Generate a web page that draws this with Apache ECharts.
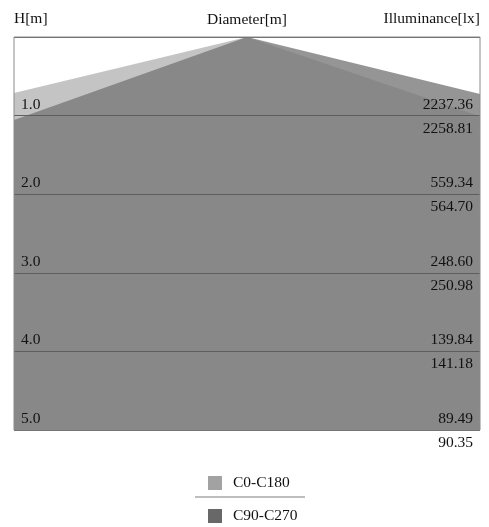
<!DOCTYPE html>
<html>
<head>
<meta charset="utf-8">
<script src="https://cdn.jsdelivr.net/npm/echarts@6/dist/echarts.min.js"></script>
<style>
html,body{margin:0;padding:0;background:#fff;}
#main{width:489px;height:527px;}
</style>
</head>
<body>
<div id="main"></div>
<script>
// ---- data ----
const heights = [1, 2, 3, 4, 5];
const hLabels = ['1.0', '2.0', '3.0', '4.0', '5.0'];
const illumC0 = [2237.36, 559.34, 248.60, 139.84, 89.49];
const illumC90 = [2258.81, 564.70, 250.98, 141.18, 90.35];
const seriesNames = ['C0-C180', 'C90-C270'];
// beam half-width (m) at 1 m height, left / right of the axis
const halfWidthLeft = [4.21, 2.84];
const halfWidthRight = [2.98, 4.14];
const maxH = 5;

const FONT = '"Liberation Serif", "Times New Roman", serif';
const FS = 15.5;
const coneFill = ['rgba(160,160,160,0.62)', 'rgba(119,119,119,0.78)'];
const swatch = ['#a2a2a2', '#686868'];

const chart = echarts.init(document.getElementById('main'), null, {renderer: 'canvas'});

function makeCone(idx) {
  return function (params, api) {
    const L = api.value(0), R = api.value(1);
    const apex = api.coord([0, 0]);
    const pl = api.coord([-L * maxH, maxH]);
    const pr = api.coord([R * maxH, maxH]);
    return {
      type: 'polygon',
      shape: {points: [apex, pl, pr]},
      style: {fill: coneFill[idx]}
    };
  };
}

const labelRows = heights.map((h, i) => [h, illumC0[i], illumC90[i]]);

function labelItem(params, api) {
  const i = params.dataIndex;
  const h = api.value(0);
  const left = api.coord([-3, h]);
  const right = api.coord([3, h]);
  const txt = (t, x, y, align) => ({
    type: 'text', x: x, y: y,
    style: {text: t, textAlign: align, textVerticalAlign: 'middle',
            font: FS + 'px ' + FONT, fill: '#111'}
  });
  return {
    type: 'group',
    children: [
      txt(hLabels[i], left[0] + 7, left[1] - 11, 'left'),
      txt(illumC0[i].toFixed(2), right[0] - 7, right[1] - 11, 'right'),
      txt(illumC90[i].toFixed(2), right[0] - 7, right[1] + 13, 'right')
    ]
  };
}

const legendBase = {
  left: 208, itemWidth: 14, itemHeight: 14, itemGap: 10, itemTextGap: 11, icon: 'rect',
  selectedMode: false, padding: 0,
  textStyle: {fontFamily: FONT, fontSize: FS, color: '#111', padding: [0, 0, 0, 6]}
};

const option = {
  backgroundColor: '#ffffff',
  animation: false,
  grid: {left: 14, top: 37, width: 466, height: 393, show: true,
         borderColor: '#8a8a8a', borderWidth: 1, backgroundColor: 'transparent', z: 10},
  xAxis: {type: 'value', min: -3, max: 3, show: false},
  yAxis: {type: 'value', min: 0, max: 5, interval: 1, inverse: true, z: 6,
          axisLine: {show: false}, axisTick: {show: false}, axisLabel: {show: false},
          splitLine: {show: true, lineStyle: {color: '#5e5e5e', width: 1}}},
  legend: [
    Object.assign({}, legendBase, {top: 475,
      data: [{name: seriesNames[0], itemStyle: {color: swatch[0]}}]}),
    Object.assign({}, legendBase, {top: 508,
      data: [{name: seriesNames[1], itemStyle: {color: swatch[1]}}]})
  ],
  graphic: [
    {type: 'text', left: 14, top: 11, style: {text: 'H[m]', font: FS + 'px ' + FONT, fill: '#111'}},
    {type: 'text', x: 247, y: 20, style: {text: 'Diameter[m]', textAlign: 'center', textVerticalAlign: 'middle', font: FS + 'px ' + FONT, fill: '#111'}},
    {type: 'text', right: 9, top: 11, style: {text: 'Illuminance[lx]', font: FS + 'px ' + FONT, fill: '#111'}},
    {type: 'line', shape: {x1: 195, y1: 497, x2: 305, y2: 497}, style: {stroke: '#a8a8a8', lineWidth: 1.5}}
  ],
  series: [
    {name: seriesNames[0], type: 'custom', clip: true, z: 2,
     itemStyle: {color: swatch[0]},
     renderItem: makeCone(0), data: [[halfWidthLeft[0], halfWidthRight[0]]]},
    {name: seriesNames[1], type: 'custom', clip: true, z: 3,
     itemStyle: {color: swatch[1]},
     renderItem: makeCone(1), data: [[halfWidthLeft[1], halfWidthRight[1]]]},
    {name: 'labels', type: 'custom', clip: false, z: 8, silent: true,
     renderItem: labelItem, data: labelRows}
  ]
};
chart.setOption(option);
</script>
</body>
</html>
